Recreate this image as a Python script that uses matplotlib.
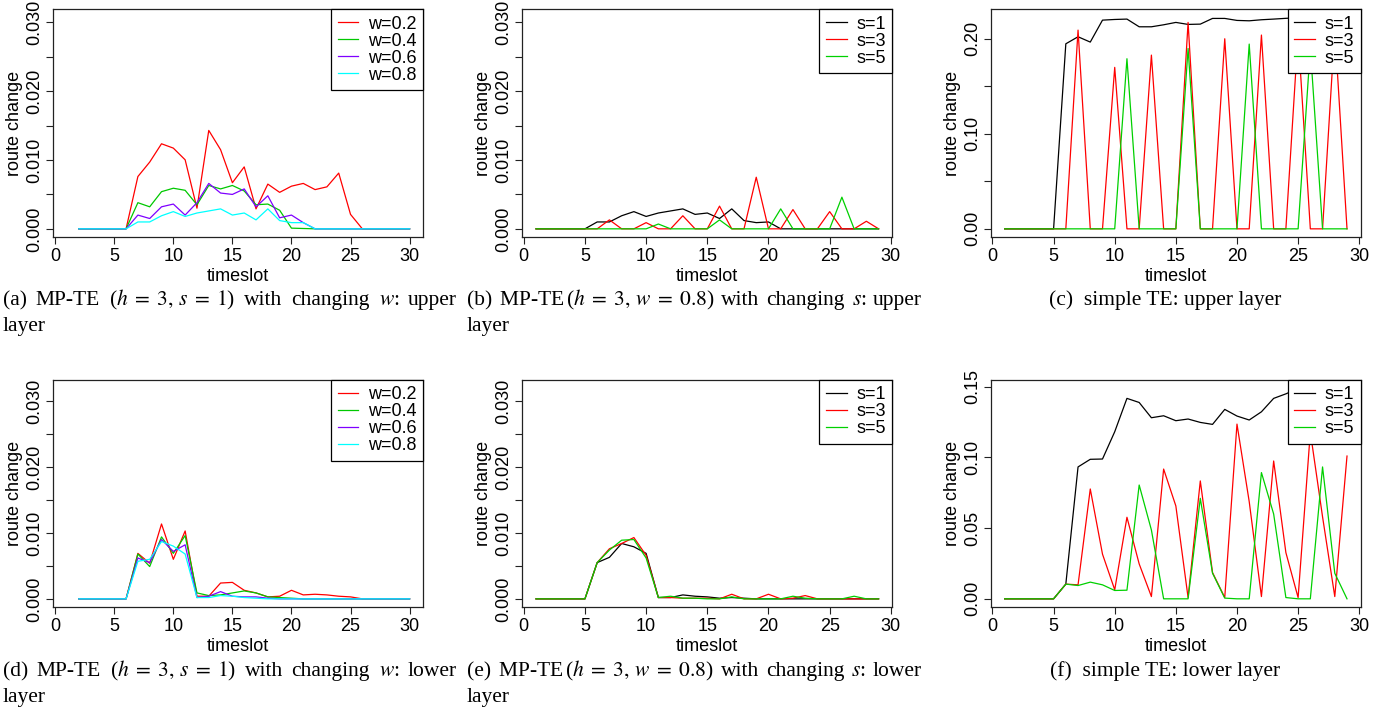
import matplotlib
matplotlib.use('Agg')
import matplotlib.pyplot as plt
from matplotlib.ticker import FixedLocator, FixedFormatter

plt.rcParams['font.family'] = ['Liberation Sans', 'DejaVu Sans']
plt.rcParams['mathtext.fontset'] = 'stix'

# ---------------- data ----------------
ts_a = list(range(2, 31))
ts_b = list(range(1, 30))

a_w02 = [0, 0, 0, 0, 0, .0076, .0097, .01236, .01173, .01003, .0030, .0143, .0115, .0067, .0090,
         .0029, .0065, .0053, .0062, .0066, .0057, .0061, .0081, .0021, 0, 0, 0, 0, 0]
a_w04 = [0, 0, 0, 0, 0, .0038, .0032, .0054, .0059, .0056, .0035, .0063, .0058, .0063, .0055,
         .0035, .0036, .0027, .0001, .00005, 0, 0, 0, 0, 0, 0, 0, 0, 0]
a_w06 = [0, 0, 0, 0, 0, .0020, .0015, .0032, .0036, .0020, .0038, .0066, .0052, .0050, .0058,
         .0032, .0048, .0016, .0020, .0009, 0, 0, 0, 0, 0, 0, 0, 0, 0]
a_w08 = [0, 0, 0, 0, 0, .0010, .0010, .0019, .0025, .0018, .0023, .0026, .0029, .0020, .0023,
         .0013, .0029, .0012, .0009, .0009, 0, 0, 0, 0, 0, 0, 0, 0, 0]

b_s1 = [0, 0, 0, 0, 0, .0010, .0010, .0019, .0025, .0018, .0023, .0026, .0029, .0021, .0023,
        .0015, .0029, .0012, .0009, .0010, 0, 0, 0, 0, 0, 0, 0, 0, 0]
b_s3 = [0, 0, 0, 0, 0, 0, .0013, 0, 0, .0009, 0, 0, .0019, 0, 0, .0033, 0, 0, .0075, 0, 0,
        .0028, 0, 0, .0025, 0, 0, .0011, 0]
b_s5 = [0, 0, 0, 0, 0, 0, 0, 0, 0, 0, .0007, 0, 0, 0, 0, .0013, 0, 0, 0, 0, .0029, 0, 0, 0, 0,
        .0046, 0, 0, 0]

c_s1 = [0, 0, 0, 0, 0, .1947, .2021, .1965, .2196, .2203, .2207, .2126, .2126, .2147, .2172,
        .2151, .2154, .2214, .2214, .2193, .2189, .2200, .2207, .2215, .2221, .2210, .2200,
        .2205, .2210]
c_s3 = [0, 0, 0, 0, 0, 0, .2091, 0, 0, .1699, 0, 0, .1828, 0, 0, .2172, 0, 0, .2000, 0, 0,
        .2039, 0, 0, .2050, 0, 0, .2100, 0]
c_s5 = [0, 0, 0, 0, 0, 0, 0, 0, 0, 0, .1790, 0, 0, 0, 0, .1898, 0, 0, 0, 0, .1944, 0, 0, 0, 0,
        .1900, 0, 0, 0]

d_w02 = [0, 0, 0, 0, 0, .0069, .0054, .01136, .0060, .0103, .0004, .0004, .0024, .0025, .0013,
         .0009, .0003, .0004, .0013, .0006, .0007, .0006, .0004, .0003, 0, 0, 0, 0, 0]
d_w04 = [0, 0, 0, 0, 0, .0068, .0049, .0094, .0069, .0096, .0009, .0005, .0006, .0009, .0012,
         .0009, .0003, .0002, .0001, 0, 0, 0, 0, 0, 0, 0, 0, 0, 0]
d_w06 = [0, 0, 0, 0, 0, .0062, .0055, .0090, .0072, .0082, .0002, .0004, .0011, .0004, .0003,
         .0003, .0001, 0, 0, 0, 0, 0, 0, 0, 0, 0, 0, 0, 0]
d_w08 = [0, 0, 0, 0, 0, .0057, .0060, .0087, .0080, .0068, .0002, .0002, .0005, .0004, .0002,
         .0001, 0, 0, 0, 0, 0, 0, 0, 0, 0, 0, 0, 0, 0]

e_s1 = [0, 0, 0, 0, 0, .0055, .0063, .0084, .0079, .0069, .0002, .0002, .0006, .0004, .0003,
        .0001, .0002, .0001, 0, 0, 0, 0, 0, 0, 0, 0, 0, 0, 0]
e_s3 = [0, 0, 0, 0, 0, .0055, .0076, .0084, .0093, .0066, .0002, .0002, .0001, .0001, .0001,
        0, .0007, 0, 0, .0007, 0, .0001, .0005, 0, 0, 0, 0, 0, 0]
e_s5 = [0, 0, 0, 0, 0, .0055, .0074, .0089, .0090, .0062, .0002, .0004, .0001, .0001, 0,
        0, .0003, 0, 0, 0, 0, .0004, .0001, 0, 0, 0, .0004, 0, 0]

f_s1 = [0, 0, 0, 0, 0, .0104, .0933, .0987, .0989, .1182, .1418, .1389, .1281, .1295, .1260,
        .1272, .1248, .1234, .1340, .1293, .1265, .1323, .1418, .1450, .1488, .1460, .1440,
        .1450, .1470]
f_s3 = [0, 0, 0, 0, 0, .0104, .0099, .0777, .0316, .0064, .0577, .0247, .0016, .0918, .0657,
        .0009, .0834, .0186, .0009, .1236, .0688, .0016, .0975, .0327, .0009, .1180, .0580,
        .0016, .1010]
f_s5 = [0, 0, 0, 0, 0, .0104, .0094, .0118, .0099, .0059, .0061, .0805, .0487, 0, 0,
        0, .0711, .0181, .0005, 0, 0, .0893, .0600, .0009, 0, 0, .0933, .0181, 0]

w_labels = ['w=0.2', 'w=0.4', 'w=0.6', 'w=0.8']
s_labels = ['s=1', 's=3', 's=5']
w_colors = ['#FF0000', '#00C800', '#7F00FF', '#00FFFF']
s_colors = ['#000000', '#FF0000', '#00D000']

xticks = [0, 5, 10, 15, 20, 25, 30]
small_ticks = [0, .005, .010, .015, .020, .025, .030]
small_labels = ['0.000', '', '0.010', '', '0.020', '', '0.030']
c_ticks = [0, .05, .10, .15, .20]
c_labels = ['0.00', '', '0.10', '', '0.20']
f_ticks = [0, .05, .10, .15]
f_labels = ['0.00', '0.05', '0.10', '0.15']

# caption words (first line is justified, second line is left/centred)
cap_a = ["(a)", "MP-TE", r"($h\;=\;3,\,s\;=\;1$)", "with", "changing", "$w$:", "upper"]
cap_b = ["(b)", r"MP-TE$\,$($h\;=\;3,\,w\;=\;0.8$)", "with", "changing", "$s$:", "upper"]
cap_c = "(c)  simple TE: upper layer"
cap_d = ["(d)", "MP-TE", r"($h\;=\;3,\,s\;=\;1$)", "with", "changing", "$w$:", "lower"]
cap_e = ["(e)", r"MP-TE$\,$($h\;=\;3,\,w\;=\;0.8$)", "with", "changing", "$s$:", "lower"]
cap_f = "(f)  simple TE: lower layer"
cap_tail = "layer"

# ---------------- figure ----------------
W, H = 1390, 709
fig = plt.figure(figsize=(W / 100, H / 100), dpi=100)


def px_axes(l, r, t, b):
    return fig.add_axes([l / W, 1 - b / H, (r - l) / W, (b - t) / H])


FS = 13
LCOL = '#222222'


def style(ax, xlim, ylim, yt, yl):
    ax.set_xlim(*xlim)
    ax.set_ylim(*ylim)
    ax.xaxis.set_major_locator(FixedLocator(xticks))
    ax.yaxis.set_major_locator(FixedLocator(yt))
    ax.yaxis.set_major_formatter(FixedFormatter(yl))
    ax.tick_params(axis='both', direction='out', length=5, width=0.8, labelsize=FS, color=LCOL)
    ax.tick_params(axis='x', pad=3)
    ax.tick_params(axis='y', pad=2)
    for lab in ax.get_yticklabels():
        lab.set_rotation(90)
        lab.set_va('center')
    for sp in ax.spines.values():
        sp.set_linewidth(0.9)
        sp.set_color(LCOL)
    ax.set_xlabel('timeslot', fontsize=FS, labelpad=2)
    ax.set_ylabel('route change', fontsize=FS, va='center')
    ax.yaxis.set_label_coords(-39 / 370, 0.5)


def legend(ax):
    leg = ax.legend(loc='upper right', bbox_to_anchor=(1, 1), borderaxespad=0,
                    fancybox=False, edgecolor='black', framealpha=1, fontsize=FS,
                    handlelength=1.15, handletextpad=0.55, labelspacing=0.0,
                    borderpad=0.35)
    leg.get_frame().set_linewidth(0.9)


LW = 0.9
cols = [(53.3, 423.3), (522.3, 892.3), (991, 1360.7)]
rows = [(9.3, 237.3), (380, 607.3)]

# (a)
ax = px_axes(cols[0][0], cols[0][1], rows[0][0], rows[0][1])
for ys, c, lab in zip([a_w02, a_w04, a_w06, a_w08], w_colors, w_labels):
    ax.plot(ts_a, ys, color=c, lw=LW, label=lab)
style(ax, (-0.16, 31.16), (-0.00123, 0.0319), small_ticks, small_labels)
legend(ax)

# (b)
ax = px_axes(cols[1][0], cols[1][1], rows[0][0], rows[0][1])
for ys, c, lab in zip([b_s1, b_s3, b_s5], s_colors, s_labels):
    ax.plot(ts_b, ys, color=c, lw=LW, label=lab)
style(ax, (-0.12, 30.12), (-0.00123, 0.0319), small_ticks, small_labels)
legend(ax)

# (c)
ax = px_axes(cols[2][0], cols[2][1], rows[0][0], rows[0][1])
for ys, c, lab in zip([c_s1, c_s3, c_s5], s_colors, s_labels):
    ax.plot(ts_b, ys, color=c, lw=LW, label=lab)
style(ax, (-0.12, 30.12), (-0.0089, 0.2310), c_ticks, c_labels)
legend(ax)

# (d)
ax = px_axes(cols[0][0], cols[0][1], rows[1][0], rows[1][1])
for ys, c, lab in zip([d_w02, d_w04, d_w06, d_w08], w_colors, w_labels):
    ax.plot(ts_a, ys, color=c, lw=LW, label=lab)
style(ax, (-0.16, 31.16), (-0.00128, 0.0332), small_ticks, small_labels)
legend(ax)

# (e)
ax = px_axes(cols[1][0], cols[1][1], rows[1][0], rows[1][1])
for ys, c, lab in zip([e_s1, e_s3, e_s5], s_colors, s_labels):
    ax.plot(ts_b, ys, color=c, lw=LW, label=lab)
style(ax, (-0.12, 30.12), (-0.00128, 0.0332), small_ticks, small_labels)
legend(ax)

# (f)
ax = px_axes(cols[2][0], cols[2][1], rows[1][0], rows[1][1])
for ys, c, lab in zip([f_s1, f_s3, f_s5], s_colors, s_labels):
    ax.plot(ts_b, ys, color=c, lw=LW, label=lab)
style(ax, (-0.12, 30.12), (-0.0060, 0.1548), f_ticks, f_labels)
legend(ax)

# ---------------- captions ----------------
CFS = 15.5
SERIF = 'Liberation Serif'
renderer = fig.canvas.get_renderer()


def justified(words, x0, x1, ybase):
    texts = [fig.text(0, 1 - ybase / H, w, fontsize=CFS, family=SERIF,
                      ha='left', va='baseline') for w in words]
    widths = [t.get_window_extent(renderer).width for t in texts]
    gap = (x1 - x0 - sum(widths)) / (len(words) - 1)
    x = x0
    for t, wd in zip(texts, widths):
        t.set_x(x / W)
        x += wd + gap


def plain(s, x, ybase, ha='left'):
    fig.text(x / W, 1 - ybase / H, s, fontsize=CFS, family=SERIF, ha=ha, va='baseline')


PITCH = 26
for y0, (ca, cb, cc) in zip([305, 676], [(cap_a, cap_b, cap_c), (cap_d, cap_e, cap_f)]):
    justified(ca, 3, 457, y0)
    plain(cap_tail, 3, y0 + PITCH)
    justified(cb, 467, 922, y0)
    plain(cap_tail, 467, y0 + PITCH)
    plain(cc, 1165, y0, ha='center')

fig.savefig('out.png', dpi=100)
